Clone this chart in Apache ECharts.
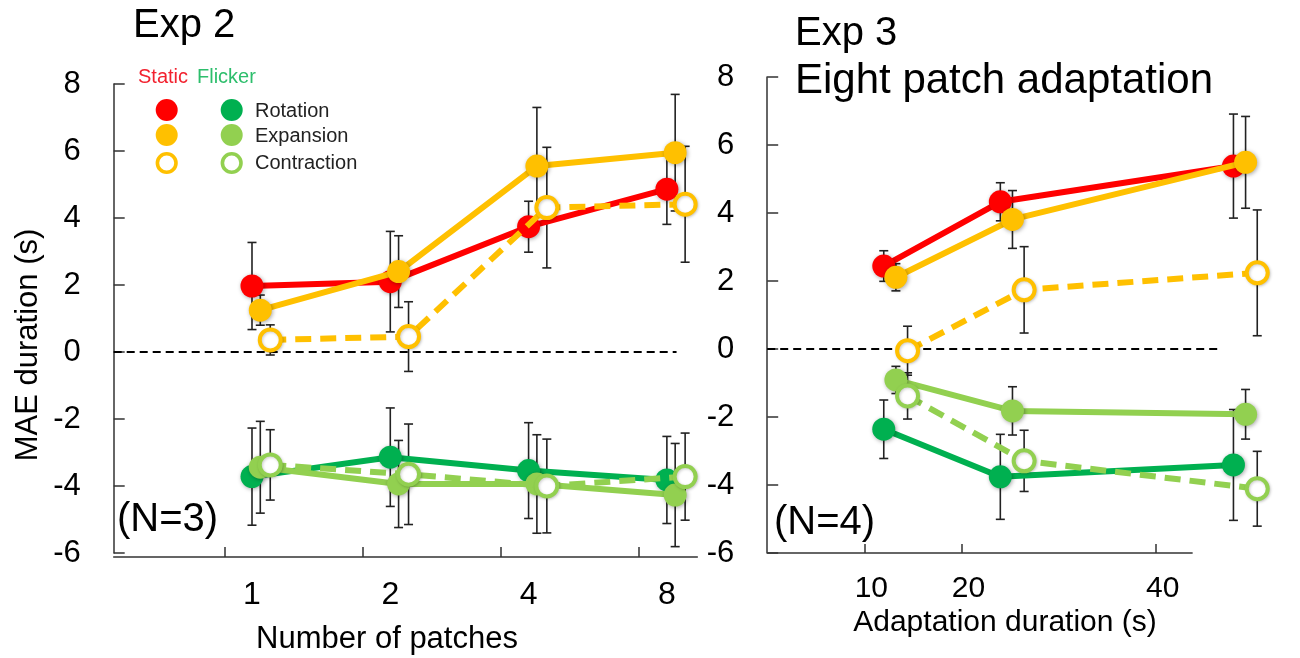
<!DOCTYPE html>
<html><head><meta charset="utf-8">
<script src="https://cdn.jsdelivr.net/npm/echarts@6/dist/echarts.min.js"></script>
<style>html,body{margin:0;padding:0;background:#fff}#c{width:1300px;height:658px}</style>
</head><body><div id="c"></div>
<script>
// ---------- data: Exp 2 (number of patches) ----------
const patchCounts = [1, 2, 4, 8];
const exp2StaticRotation    = [1.97, 2.10, 3.74, 4.86];
const exp2StaticRotationErr = [1.30, 1.50, 0.76, 1.05];
const exp2StaticExpansion    = [1.25, 2.40, 5.55, 5.95];
const exp2StaticExpansionErr = [0.45, 1.07, 1.75, 1.74];
const exp2StaticContraction    = [0.36, 0.46, 4.31, 4.41];
const exp2StaticContractionErr = [0.45, 1.04, 1.80, 1.73];
const exp2FlickerRotation    = [-3.72, -3.14, -3.54, -3.82];
const exp2FlickerRotationErr = [1.45, 1.47, 1.43, 1.30];
const exp2FlickerExpansion    = [-3.44, -3.94, -3.94, -4.27];
const exp2FlickerExpansionErr = [1.37, 1.30, 1.47, 1.54];
const exp2FlickerContraction    = [-3.37, -3.65, -4.00, -3.72];
const exp2FlickerContractionErr = [1.05, 1.50, 1.40, 1.30];

// ---------- data: Exp 3 (adaptation duration, s) ----------
const adaptDurations = [12, 24, 48];
const exp3StaticRotation    = [2.44, 4.33, 5.38];
const exp3StaticRotationErr = [0.45, 0.56, 1.53];
const exp3StaticExpansion    = [2.11, 3.81, 5.49];
const exp3StaticExpansionErr = [0.40, 0.85, 1.35];
const exp3StaticContraction    = [-0.05, 1.74, 2.24];
const exp3StaticContractionErr = [0.72, 1.27, 1.85];
const exp3FlickerRotation    = [-2.36, -3.76, -3.41];
const exp3FlickerRotationErr = [0.86, 1.25, 1.63];
const exp3FlickerExpansion    = [-0.91, -1.82, -1.92];
const exp3FlickerExpansionErr = [0.40, 0.71, 0.73];
const exp3FlickerContraction    = [-1.38, -3.29, -4.11];
const exp3FlickerContractionErr = [0.68, 0.90, 1.10];

// ---------- tick labels ----------
const yTicks = [-6, -4, -2, 0, 2, 4, 6, 8];
const exp2XTicks = patchCounts;          // shown as 1, 2, 4, 8 on a log2 scale
const exp3XTicks = [10, 20, 40];

// ---------- styling ----------
const FONT = '"Liberation Sans", Arial, sans-serif';
const RED = '#FF0000', ORANGE = '#FFC000', DKGREEN = '#00B050', LTGREEN = '#92D050';
const AXIS = '#333';

// small horizontal jitter used in the original figure (axis units)
const JIT2 = {rot: 0, exp: 0.06, con: 0.132};
const JIT3 = {rot: 0, exp: 1.25, con: 2.45};

const x2 = (j) => patchCounts.map(p => Math.log2(p) + j);
const x3 = (j) => adaptDurations.map(d => d + j);

function lineSeries(g, xs, ys, color, hollow, dashed, z) {
  return {
    type: 'line', xAxisIndex: g, yAxisIndex: g, clip: false, animation: false,
    data: xs.map((x, i) => [x, ys[i]]),
    symbol: 'circle', symbolSize: hollow ? 21 : 23,
    lineStyle: {color: color, width: 6, type: dashed ? [16, 9] : 'solid', cap: 'butt'},
    itemStyle: {color: hollow ? '#fff' : color, borderColor: color, borderWidth: hollow ? 4 : 0,
      shadowBlur: hollow ? 3 : 4, shadowColor: hollow ? 'rgba(0,0,0,0.2)' : 'rgba(0,0,0,0.35)',
      shadowOffsetX: 1, shadowOffsetY: 1},
    emphasis: {disabled: true}, z: z
  };
}
function errSeries(g, xs, ys, es) {
  return {
    type: 'custom', xAxisIndex: g, yAxisIndex: g, animation: false, silent: true, z: 1,
    data: xs.map((x, i) => [x, ys[i] - es[i], ys[i] + es[i]]),
    renderItem: function (params, api) {
      const x = api.value(0);
      const lo = api.coord([x, api.value(1)]);
      const hi = api.coord([x, api.value(2)]);
      const w = 4.5, st = {stroke: '#222', lineWidth: 1.6};
      return {type: 'group', children: [
        {type: 'line', shape: {x1: lo[0], y1: lo[1], x2: hi[0], y2: hi[1]}, style: st},
        {type: 'line', shape: {x1: lo[0] - w, y1: lo[1], x2: lo[0] + w, y2: lo[1]}, style: st},
        {type: 'line', shape: {x1: hi[0] - w, y1: hi[1], x2: hi[0] + w, y2: hi[1]}, style: st}
      ]};
    }
  };
}
function refLine(g, x0, x1, y, style, z) {
  return {
    type: 'line', xAxisIndex: g, yAxisIndex: g, data: [], animation: false, z: z,
    markLine: {silent: true, symbol: 'none', label: {show: false}, animation: false,
      lineStyle: style,
      data: [[{coord: [x0, y]}, {coord: [x1, y]}]]}
  };
}
const zeroStyle = {color: '#000', width: 2, type: [8, 5]};
const axisStyle = {color: AXIS, width: 1.5, type: 'solid'};

const yAxisBase = {
  type: 'value', min: -6, max: 8, interval: 2,
  axisLine: {show: true, onZero: false, lineStyle: {color: AXIS, width: 1.5}},
  axisTick: {show: true, inside: true, length: 11, lineStyle: {color: AXIS, width: 1.5}},
  axisLabel: {color: '#000', fontSize: 31, fontFamily: FONT, margin: 33,
    customValues: yTicks},
  splitLine: {show: false}
};

const option = {
  backgroundColor: '#fff',
  animation: false,
  grid: [
    {left: 113.7, top: 84, width: 583.6, height: 469},
    {left: 767.2, top: 77, width: 505.1, height: 476}
  ],
  xAxis: [
    {type: 'value', gridIndex: 0, min: -1, max: 3.22, offset: 4,
      axisLine: {show: true, onZero: false, lineStyle: {color: AXIS, width: 1.5}},
      axisTick: {show: true, inside: true, length: 10, lineStyle: {color: AXIS, width: 1.5},
        customValues: exp2XTicks.map(p => Math.log2(p) - 0.2)},
      axisLabel: {color: '#000', fontSize: 32, fontFamily: FONT, margin: 22,
        customValues: exp2XTicks.map(p => Math.log2(p)),
        formatter: v => String(Math.round(Math.pow(2, v)))},
      splitLine: {show: false}},
    {type: 'value', gridIndex: 1, min: 0, max: 52,
      axisLine: {show: false, onZero: false},
      axisTick: {show: true, inside: true, length: 9, lineStyle: {color: AXIS, width: 1.5},
        customValues: exp3XTicks},
      axisLabel: {color: '#000', fontSize: 30, fontFamily: FONT, margin: 21,
        padding: [0, 0, 0, 14], customValues: exp3XTicks},
      splitLine: {show: false}}
  ],
  yAxis: [
    Object.assign({gridIndex: 0}, yAxisBase),
    Object.assign({gridIndex: 1}, yAxisBase)
  ],
  series: [
    refLine(0, -1, 3.07, 0, zeroStyle, 2),
    refLine(1, 0, 46.8, 0, zeroStyle, 2),
    refLine(1, 0, 43.8, -6, axisStyle, 2),
    errSeries(0, x2(JIT2.rot), exp2StaticRotation, exp2StaticRotationErr),
    errSeries(0, x2(JIT2.exp), exp2StaticExpansion, exp2StaticExpansionErr),
    errSeries(0, x2(JIT2.con), exp2StaticContraction, exp2StaticContractionErr),
    errSeries(0, x2(JIT2.rot), exp2FlickerRotation, exp2FlickerRotationErr),
    errSeries(0, x2(JIT2.exp), exp2FlickerExpansion, exp2FlickerExpansionErr),
    errSeries(0, x2(JIT2.con), exp2FlickerContraction, exp2FlickerContractionErr),
    errSeries(1, x3(JIT3.rot), exp3StaticRotation, exp3StaticRotationErr),
    errSeries(1, x3(JIT3.exp), exp3StaticExpansion, exp3StaticExpansionErr),
    errSeries(1, x3(JIT3.con), exp3StaticContraction, exp3StaticContractionErr),
    errSeries(1, x3(JIT3.rot), exp3FlickerRotation, exp3FlickerRotationErr),
    errSeries(1, x3(JIT3.exp), exp3FlickerExpansion, exp3FlickerExpansionErr),
    errSeries(1, x3(JIT3.con), exp3FlickerContraction, exp3FlickerContractionErr),
    lineSeries(0, x2(JIT2.rot), exp2StaticRotation, RED, false, false, 3),
    lineSeries(0, x2(JIT2.exp), exp2StaticExpansion, ORANGE, false, false, 4),
    lineSeries(0, x2(JIT2.con), exp2StaticContraction, ORANGE, true, true, 5),
    lineSeries(0, x2(JIT2.rot), exp2FlickerRotation, DKGREEN, false, false, 3),
    lineSeries(0, x2(JIT2.exp), exp2FlickerExpansion, LTGREEN, false, false, 4),
    lineSeries(0, x2(JIT2.con), exp2FlickerContraction, LTGREEN, true, true, 5),
    lineSeries(1, x3(JIT3.rot), exp3StaticRotation, RED, false, false, 3),
    lineSeries(1, x3(JIT3.exp), exp3StaticExpansion, ORANGE, false, false, 4),
    lineSeries(1, x3(JIT3.con), exp3StaticContraction, ORANGE, true, true, 5),
    lineSeries(1, x3(JIT3.rot), exp3FlickerRotation, DKGREEN, false, false, 3),
    lineSeries(1, x3(JIT3.exp), exp3FlickerExpansion, LTGREEN, false, false, 4),
    lineSeries(1, x3(JIT3.con), exp3FlickerContraction, LTGREEN, true, true, 5)
  ],
  graphic: [
    {type: 'text', left: 133, top: 6, style: {text: 'Exp 2', font: '40px ' + FONT, fill: '#000'}},
    {type: 'text', left: 795, top: 14, style: {text: 'Exp 3', font: '40px ' + FONT, fill: '#000'}},
    {type: 'text', left: 795, top: 60, style: {text: 'Eight patch adaptation', font: '42px ' + FONT, fill: '#000'}},
    {type: 'text', x: 28, y: 345, rotation: Math.PI / 2,
      style: {text: 'MAE duration (s)', font: '31px ' + FONT, fill: '#000', align: 'center', verticalAlign: 'middle'}},
    {type: 'text', x: 387, y: 639, style: {text: 'Number of patches', font: '31px ' + FONT, fill: '#000', align: 'center', verticalAlign: 'middle'}},
    {type: 'text', x: 1005, y: 623, style: {text: 'Adaptation duration (s)', font: '30px ' + FONT, fill: '#000', align: 'center', verticalAlign: 'middle'}},
    {type: 'text', x: 117, y: 520, style: {text: '(N=3)', font: '40px ' + FONT, fill: '#000', verticalAlign: 'middle'}},
    {type: 'text', x: 774, y: 523, style: {text: '(N=4)', font: '40px ' + FONT, fill: '#000', verticalAlign: 'middle'}},
    // legend
    {type: 'text', x: 138, y: 77, style: {text: 'Static', font: '20px ' + FONT, fill: '#F2212E', verticalAlign: 'middle'}},
    {type: 'text', x: 197, y: 77, style: {text: 'Flicker', font: '20px ' + FONT, fill: '#2DBE6C', verticalAlign: 'middle'}},
    {type: 'circle', shape: {cx: 166.7, cy: 110, r: 11}, style: {fill: RED}},
    {type: 'circle', shape: {cx: 166.7, cy: 135, r: 11}, style: {fill: ORANGE}},
    {type: 'circle', shape: {cx: 166.7, cy: 163, r: 9.3}, style: {fill: '#fff', stroke: ORANGE, lineWidth: 3.6}},
    {type: 'circle', shape: {cx: 231.7, cy: 110, r: 11}, style: {fill: DKGREEN}},
    {type: 'circle', shape: {cx: 231.7, cy: 135, r: 11}, style: {fill: LTGREEN}},
    {type: 'circle', shape: {cx: 231.7, cy: 163, r: 9.3}, style: {fill: '#fff', stroke: LTGREEN, lineWidth: 3.6}},
    {type: 'text', x: 255, y: 111, style: {text: 'Rotation', font: '20px ' + FONT, fill: '#222', verticalAlign: 'middle'}},
    {type: 'text', x: 255, y: 136, style: {text: 'Expansion', font: '20px ' + FONT, fill: '#222', verticalAlign: 'middle'}},
    {type: 'text', x: 255, y: 163, style: {text: 'Contraction', font: '20px ' + FONT, fill: '#222', verticalAlign: 'middle'}}
  ]
};

const chart = echarts.init(document.getElementById('c'), null, {renderer: 'canvas'});
chart.setOption(option);
</script>
</body></html>
